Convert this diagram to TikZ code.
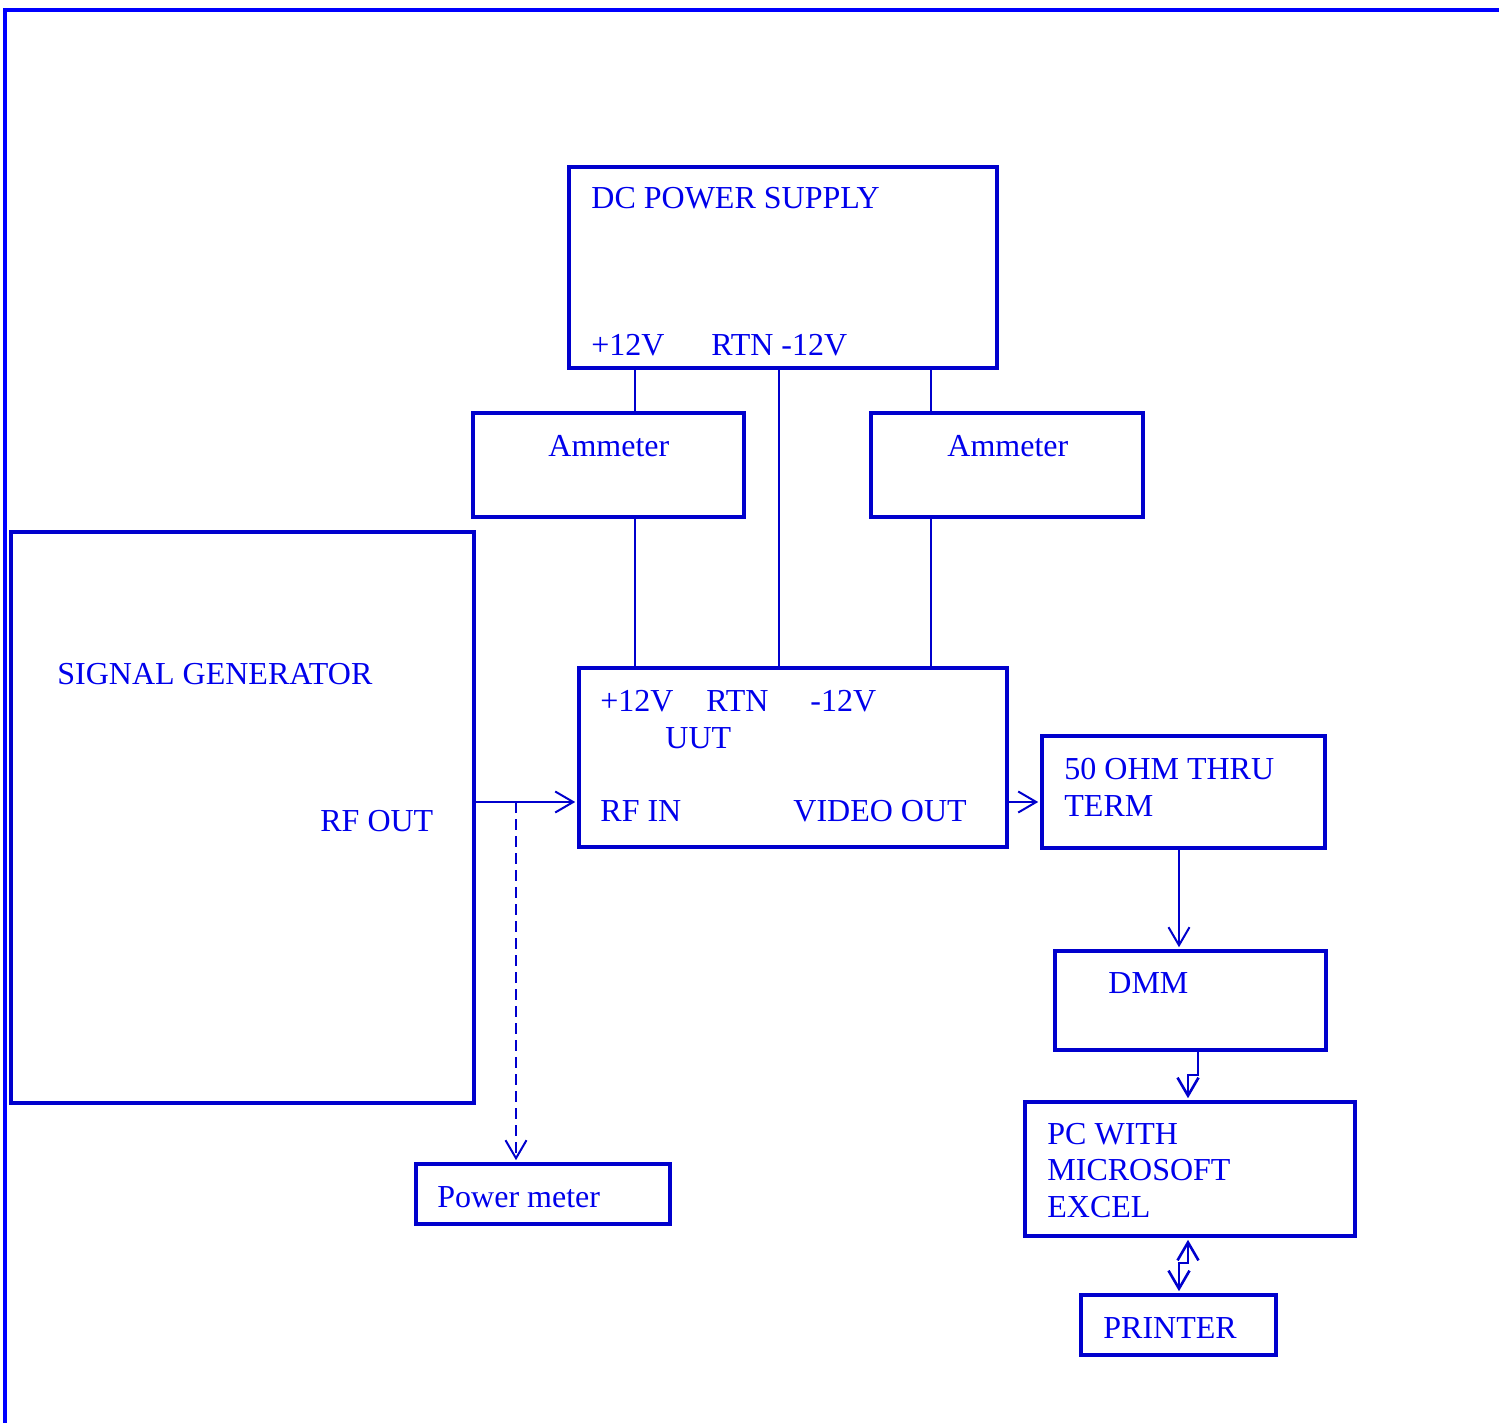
\documentclass[tikz,border=0pt]{standalone}
\usepackage{fontspec}
\setmainfont{Liberation Serif}
\usetikzlibrary{arrows.meta,fit}
\definecolor{boxblue}{RGB}{0,0,205}
\definecolor{txtblue}{RGB}{0,0,235}
\definecolor{frameblue}{RGB}{0,0,255}
\begin{document}
\begin{tikzpicture}[x=0.5pt,y=-0.5pt,
  box/.style={draw=boxblue,line width=1.8pt,inner sep=0pt,fit={#1}},
  lbl/.style={anchor=base west,inner sep=0pt,text=txtblue,font=\fontsize{16pt}{18.4pt}\selectfont},
  wire/.style={draw=boxblue,line width=1pt},
  tip/.style={-{Straight Barb[length=9pt,width=10.5pt]}},
  dtip/.style={{Straight Barb[length=9pt,width=10.5pt]}-{Straight Barb[length=9pt,width=10.5pt]}}]
\useasboundingbox (0,0) rectangle (1499,1423);
% outer frame
\draw[frameblue,line width=2pt] (5,1423) -- (5,10) -- (1499,10);

% boxes
\node[box={(569,167) (997,368)}] (ps) {};
\node[box={(473,413) (744,517)}] (am1) {};
\node[box={(871,413) (1143,517)}] (am2) {};
\node[box={(11,532) (474,1103)}] (sg) {};
\node[box={(579,668) (1007,847)}] (uut) {};
\node[box={(416,1164) (670,1224)}] (pm) {};
\node[box={(1042,736) (1325,848)}] (term) {};
\node[box={(1055,951) (1326,1050)}] (dmm) {};
\node[box={(1025,1102) (1355,1236)}] (pc) {};
\node[box={(1081,1295) (1276,1355)}] (pr) {};

% labels
\node[lbl] (t1) at (591,209) {DC POWER SUPPLY};
\node[lbl] (t2) at (591,356) {+12V};
\node[lbl] (t3) at (711,356) {RTN -12V};
\node[lbl] (t4) at (548,456) {Ammeter};
\node[lbl] (t5) at (947,456) {Ammeter};
\node[lbl] (t6) at (57,684) {SIGNAL GENERATOR};
\node[lbl] (t7) at (320,831) {RF OUT};
\node[lbl] (t8) at (600,711) {+12V};
\node[lbl] (t9) at (706,711) {RTN};
\node[lbl] (t10) at (810,711) {-12V};
\node[lbl] (t11) at (665,748) {UUT};
\node[lbl] (t12) at (600,821) {RF IN};
\node[lbl] (t13) at (793,821) {VIDEO OUT};
\node[lbl] (t14) at (1064,779) {50 OHM THRU};
\node[lbl] (t15) at (1064,816) {TERM};
\node[lbl] (t16) at (1108,993) {DMM};
\node[lbl] (t17) at (1047,1144) {PC WITH};
\node[lbl] (t18) at (1047,1180) {MICROSOFT};
\node[lbl] (t19) at (1047,1217) {EXCEL};
\node[lbl] (t20) at (437,1207) {Power meter};
\node[lbl] (t21) at (1103,1338) {PRINTER};

% helper coordinates
\coordinate (xa) at (635,0);
\coordinate (xr) at (779,0);
\coordinate (xb) at (931,0);
\coordinate (rf) at (0,802);
\coordinate (split) at (516,802);
\coordinate (xt) at (1179,0);
\coordinate (j1) at (1198,1075);
\coordinate (j2) at (1188,1075);
\coordinate (k1) at (1188,1263);
\coordinate (k2) at (1179,1263);

% connectors
\draw[wire] (ps.south -| xa) -- (am1.north -| xa);
\draw[wire] (am1.south -| xa) -- (uut.north -| xa);
\draw[wire] (ps.south -| xr) -- (uut.north -| xr);
\draw[wire] (ps.south -| xb) -- (am2.north -| xb);
\draw[wire] (am2.south -| xb) -- (uut.north -| xb);
\draw[wire,tip,shorten >=1pt] (sg.east |- rf) -- (uut.west |- rf);
\draw[wire,tip,dashed,dash pattern=on 5.5pt off 3pt,shorten >=1pt] (split) -- (pm.north -| split);
\draw[wire,tip,shorten >=1pt] (uut.east |- rf) -- (term.west |- rf);
\draw[wire,tip,shorten >=1pt] (term.south -| xt) -- (dmm.north -| xt);
\draw[wire,line width=1.3pt,tip,shorten >=1pt] (dmm.south -| j1) -- (j1) -- (j2) -- (pc.north -| j2);
\draw[wire,line width=1.3pt,dtip,shorten >=1pt,shorten <=1pt] (pc.south -| k1) -- (k1) -- (k2) -- (pr.north -| k2);
\end{tikzpicture}
\end{document}
